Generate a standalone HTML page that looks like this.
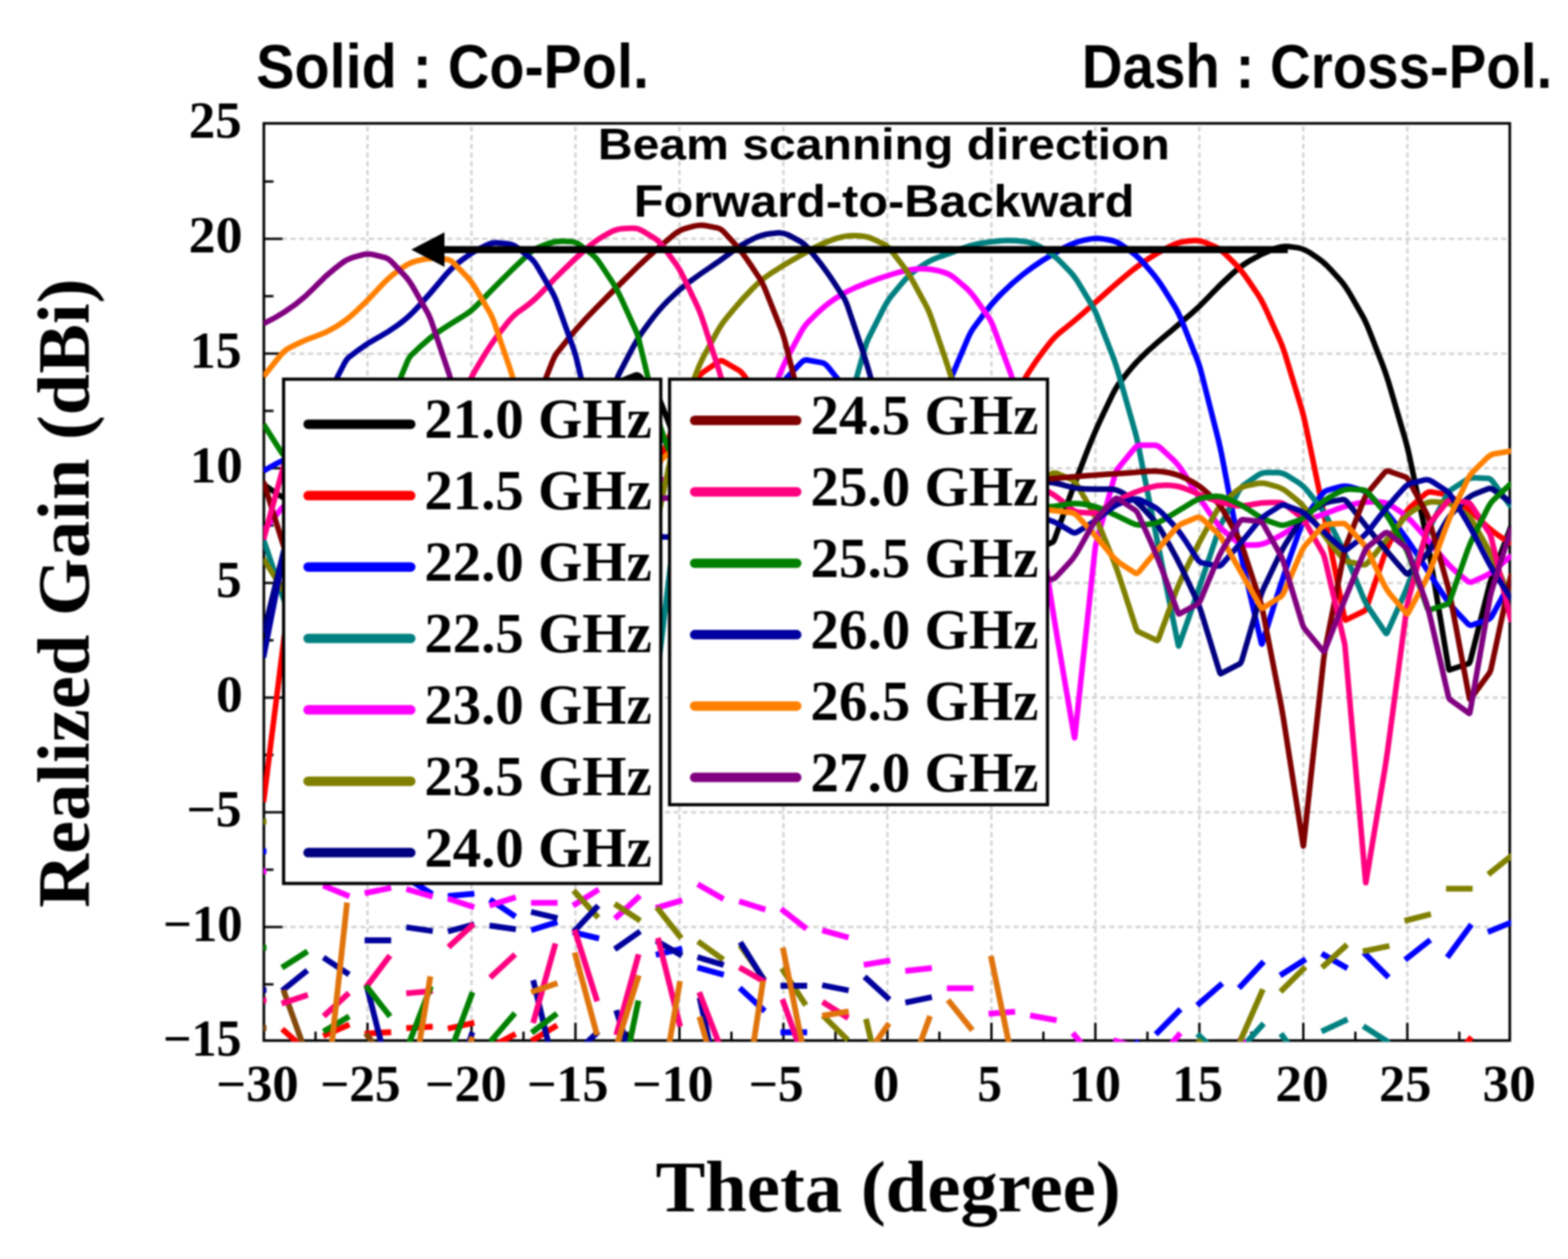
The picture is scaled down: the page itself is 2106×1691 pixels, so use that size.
<!DOCTYPE html>
<html lang="en"><head><meta charset="utf-8"><title>Realized gain vs theta</title>
<style>html,body{margin:0;padding:0;background:#fff}body{width:2106px;height:1691px;overflow:hidden}svg{display:block;filter:blur(0.9px)}.ser{font-family:"Liberation Serif","DejaVu Serif",serif;font-weight:bold;fill:#000}.san{font-family:"Liberation Sans","DejaVu Sans",sans-serif;font-weight:bold;fill:#000}</style></head><body>
<svg xmlns="http://www.w3.org/2000/svg" width="2106" height="1691" viewBox="0 0 2106 1691">
<rect width="2106" height="1691" fill="#fff"/>
<defs><clipPath id="pc"><rect x="353.9" y="165.8" width="1675.6" height="1233.4"/></clipPath></defs>
<g stroke="#d2d2d2" stroke-width="3" stroke-dasharray="7 4.7" fill="none">
<line x1="493.6" y1="169.7" x2="493.6" y2="1395.6"/>
<line x1="633.3" y1="169.7" x2="633.3" y2="1395.6"/>
<line x1="772.9" y1="169.7" x2="772.9" y2="1395.6"/>
<line x1="912.6" y1="169.7" x2="912.6" y2="1395.6"/>
<line x1="1052.2" y1="169.7" x2="1052.2" y2="1395.6"/>
<line x1="1191.9" y1="169.7" x2="1191.9" y2="1395.6"/>
<line x1="1331.6" y1="169.7" x2="1331.6" y2="1395.6"/>
<line x1="1471.2" y1="169.7" x2="1471.2" y2="1395.6"/>
<line x1="1610.9" y1="169.7" x2="1610.9" y2="1395.6"/>
<line x1="1750.5" y1="169.7" x2="1750.5" y2="1395.6"/>
<line x1="1890.2" y1="169.7" x2="1890.2" y2="1395.6"/>
<line x1="378.4" y1="1245.1" x2="2024.8" y2="1245.1"/>
<line x1="378.4" y1="1091.0" x2="2024.8" y2="1091.0"/>
<line x1="378.4" y1="937.0" x2="2024.8" y2="937.0"/>
<line x1="378.4" y1="783.0" x2="2024.8" y2="783.0"/>
<line x1="378.4" y1="628.9" x2="2024.8" y2="628.9"/>
<line x1="378.4" y1="474.9" x2="2024.8" y2="474.9"/>
<line x1="378.4" y1="320.8" x2="2024.8" y2="320.8"/>
</g>
<g stroke="#000" stroke-width="3.1" fill="none">
<line x1="354.4" y1="243.8" x2="367.4" y2="243.8"/>
<line x1="354.4" y1="320.8" x2="379.4" y2="320.8"/>
<line x1="354.4" y1="397.8" x2="367.4" y2="397.8"/>
<line x1="354.4" y1="474.9" x2="379.4" y2="474.9"/>
<line x1="354.4" y1="551.9" x2="367.4" y2="551.9"/>
<line x1="354.4" y1="628.9" x2="379.4" y2="628.9"/>
<line x1="354.4" y1="705.9" x2="367.4" y2="705.9"/>
<line x1="354.4" y1="783.0" x2="379.4" y2="783.0"/>
<line x1="354.4" y1="860.0" x2="367.4" y2="860.0"/>
<line x1="354.4" y1="937.0" x2="379.4" y2="937.0"/>
<line x1="354.4" y1="1014.0" x2="367.4" y2="1014.0"/>
<line x1="354.4" y1="1091.0" x2="379.4" y2="1091.0"/>
<line x1="354.4" y1="1168.1" x2="367.4" y2="1168.1"/>
<line x1="354.4" y1="1245.1" x2="379.4" y2="1245.1"/>
<line x1="354.4" y1="1322.1" x2="367.4" y2="1322.1"/>
<line x1="423.8" y1="1397.6" x2="423.8" y2="1385.6"/>
<line x1="493.6" y1="1397.6" x2="493.6" y2="1373.6"/>
<line x1="563.4" y1="1397.6" x2="563.4" y2="1385.6"/>
<line x1="633.3" y1="1397.6" x2="633.3" y2="1373.6"/>
<line x1="703.1" y1="1397.6" x2="703.1" y2="1385.6"/>
<line x1="772.9" y1="1397.6" x2="772.9" y2="1373.6"/>
<line x1="842.8" y1="1397.6" x2="842.8" y2="1385.6"/>
<line x1="912.6" y1="1397.6" x2="912.6" y2="1373.6"/>
<line x1="982.4" y1="1397.6" x2="982.4" y2="1385.6"/>
<line x1="1052.2" y1="1397.6" x2="1052.2" y2="1373.6"/>
<line x1="1122.1" y1="1397.6" x2="1122.1" y2="1385.6"/>
<line x1="1191.9" y1="1397.6" x2="1191.9" y2="1373.6"/>
<line x1="1261.7" y1="1397.6" x2="1261.7" y2="1385.6"/>
<line x1="1331.6" y1="1397.6" x2="1331.6" y2="1373.6"/>
<line x1="1401.4" y1="1397.6" x2="1401.4" y2="1385.6"/>
<line x1="1471.2" y1="1397.6" x2="1471.2" y2="1373.6"/>
<line x1="1541.1" y1="1397.6" x2="1541.1" y2="1385.6"/>
<line x1="1610.9" y1="1397.6" x2="1610.9" y2="1373.6"/>
<line x1="1680.7" y1="1397.6" x2="1680.7" y2="1385.6"/>
<line x1="1750.5" y1="1397.6" x2="1750.5" y2="1373.6"/>
<line x1="1820.4" y1="1397.6" x2="1820.4" y2="1385.6"/>
<line x1="1890.2" y1="1397.6" x2="1890.2" y2="1373.6"/>
<line x1="1960.0" y1="1397.6" x2="1960.0" y2="1385.6"/>
</g>
<rect x="354.4" y="165.7" width="1673.4" height="1231.9" fill="none" stroke="#000" stroke-width="3.5"/>
<g clip-path="url(#pc)" fill="none" stroke-linejoin="round" stroke-linecap="butt">
<path d="M353.9 650.5L373.6 664.3Q381.9 670.2 390.2 671.7L397.2 672.9Q409.8 675.1 422.4 677.9L425.2 678.5Q437.7 681.3 450.3 679.9L453.1 679.6Q465.7 678.2 478.2 672.7L481.0 671.4Q493.6 665.9 506.2 658.9L509.0 657.4Q521.5 650.5 534.1 643.5L536.9 642.0Q549.5 635.1 562.0 628.1L564.8 626.6Q577.4 619.7 590.0 612.7L592.8 611.2Q605.3 604.3 617.9 598.7L620.7 597.5Q633.3 591.9 645.8 586.4L648.6 585.1Q661.2 579.6 673.8 574.1L676.6 572.8Q689.1 567.3 701.7 561.7L704.5 560.5Q717.1 555.0 729.6 550.8L732.4 549.9Q745.0 545.7 757.6 541.6L760.4 540.6Q772.9 536.5 785.5 530.9L788.3 529.7Q800.9 524.1 813.4 519.6L816.2 518.6Q828.8 514.0 841.4 508.8L853.8 503.8Q856.7 502.6 859.6 505.8L881.6 530.0Q884.6 533.4 887.7 541.2L904.6 584.0Q912.6 604.3 920.6 620.1L937.4 653.6Q940.5 659.7 943.6 661.4L955.9 668.2Q968.4 675.1 981.0 682.0L983.8 683.6Q996.4 690.5 1008.9 697.5L1011.7 699.0Q1024.3 705.9 1036.9 712.9L1039.7 714.4Q1052.2 721.3 1064.8 728.3L1067.6 729.8Q1080.2 736.7 1092.7 743.7L1095.5 745.2Q1108.1 752.1 1120.7 759.1L1123.5 760.6Q1136.0 767.5 1148.6 774.5L1151.4 776.0Q1164.0 783.0 1176.5 789.9L1179.3 791.4Q1191.9 798.4 1204.5 805.3L1207.3 806.8Q1219.8 813.8 1232.4 820.7L1239.8 824.8Q1247.8 829.2 1255.7 829.2L1263.1 829.2Q1275.7 829.2 1288.3 825.0L1291.1 824.1Q1303.6 819.9 1316.2 811.6L1321.6 808.0Q1331.6 801.4 1341.5 790.4L1346.9 784.5Q1359.5 770.6 1372.1 756.8L1380.8 747.1Q1387.4 739.8 1394.1 736.9L1413.5 728.3Q1415.4 727.5 1417.2 722.3L1430.7 684.3Q1443.3 648.9 1455.9 617.0L1461.5 602.7Q1471.2 578.1 1480.9 557.8L1493.8 530.9Q1499.2 519.8 1504.5 513.1L1514.6 500.4Q1527.1 484.7 1539.5 473.4L1542.4 470.8Q1555.0 459.4 1567.6 448.9L1570.4 446.6Q1582.9 436.0 1595.5 425.2L1598.3 422.8Q1610.9 412.0 1623.4 398.7L1626.2 395.7Q1638.8 382.4 1651.4 371.1L1654.2 368.5Q1666.7 357.2 1679.3 349.8L1682.1 348.2Q1694.7 340.8 1707.2 336.0L1714.1 333.3Q1722.6 330.0 1731.1 331.2L1742.2 332.6Q1750.5 333.7 1758.9 339.2L1768.5 345.6Q1778.5 352.2 1788.4 363.2L1799.5 375.4Q1806.4 383.0 1813.3 395.0L1829.1 422.6Q1834.3 431.7 1839.6 445.3L1857.1 490.4Q1862.3 503.8 1867.4 521.6L1886.8 588.1Q1890.2 599.6 1893.6 615.5L1914.7 715.7Q1918.1 732.1 1921.6 753.0L1945.4 895.9Q1946.1 900.0 1946.8 899.8L1972.8 891.2Q1974.0 890.8 1975.2 886.0L1998.6 793.1Q2001.9 779.9 2005.3 771.1L2029.9 705.9" stroke="#000000" stroke-width="7.5"/>
<path d="M353.9 1077.2L380.9 861.9Q381.9 853.8 382.9 850.1L406.7 763.3Q409.8 752.1 412.9 745.4L433.7 699.3Q437.7 690.5 441.7 686.1L457.7 668.5Q465.7 659.7 473.6 655.3L481.0 651.2Q493.6 644.3 506.2 640.1L509.0 639.2Q521.5 635.1 534.1 632.3L536.9 631.7Q549.5 628.9 562.0 627.5L564.8 627.2Q577.4 625.8 590.0 624.4L592.8 624.1Q605.3 622.7 617.9 621.4L620.7 621.0Q633.3 619.7 645.8 619.7L648.6 619.7Q661.2 619.7 673.8 621.0L676.6 621.4Q689.1 622.7 701.7 624.1L704.5 624.4Q717.1 625.8 729.6 627.2L732.4 627.5Q745.0 628.9 757.6 630.3L760.4 630.6Q772.9 632.0 785.5 633.4L788.3 633.7Q800.9 635.1 813.4 635.1L816.2 635.1Q828.8 635.1 841.4 633.7L844.1 633.4Q856.7 632.0 869.3 629.2L882.9 626.2Q884.6 625.8 886.4 621.0L908.6 559.8Q912.6 548.8 916.6 542.2L936.0 510.1Q940.5 502.6 945.0 499.5L964.9 485.9Q968.4 483.5 971.9 485.5L991.8 496.9Q996.4 499.5 1000.9 506.5L1011.7 523.2Q1024.3 542.6 1036.9 560.7L1039.7 564.7Q1052.2 582.7 1064.8 596.5L1067.6 599.6Q1080.2 613.5 1092.7 623.2L1095.5 625.4Q1108.1 635.1 1120.7 642.0L1123.5 643.5Q1136.0 650.5 1148.6 654.6L1151.4 655.6Q1164.0 659.7 1176.5 659.7L1179.3 659.7Q1191.9 659.7 1204.5 655.6L1207.3 654.6Q1219.8 650.5 1232.4 643.5L1235.2 642.0Q1247.8 635.1 1260.3 625.4L1263.1 623.2Q1275.7 613.5 1288.3 602.4L1291.1 599.9Q1303.6 588.8 1316.2 579.1L1319.0 577.0Q1331.6 567.3 1344.1 553.4L1351.5 545.3Q1359.5 536.5 1367.5 523.3L1374.9 511.1Q1387.4 490.3 1400.0 473.6L1406.9 464.5Q1415.4 453.3 1423.8 446.4L1430.7 440.9Q1443.3 430.8 1455.9 419.7L1458.7 417.2Q1471.2 406.1 1483.8 394.9L1486.6 392.4Q1499.2 381.2 1511.7 370.7L1514.5 368.3Q1527.1 357.8 1539.7 349.5L1542.4 347.6Q1555.0 339.3 1567.6 332.9L1572.2 330.6Q1582.9 325.1 1593.7 324.0L1602.6 323.2Q1610.9 322.3 1619.2 325.9L1631.0 331.0Q1638.8 334.4 1646.6 342.1L1657.5 352.9Q1666.7 362.1 1676.0 375.7L1688.7 394.3Q1694.7 403.1 1700.6 416.2L1718.5 455.7Q1722.6 464.7 1726.7 478.1L1747.6 546.9Q1750.5 556.5 1753.5 570.5L1765.9 630.2Q1778.5 690.5 1791.0 754.7L1805.6 829.2Q1806.4 833.2 1807.2 832.8L1832.6 820.5Q1834.3 819.6 1836.1 814.4L1858.3 748.6Q1862.3 736.7 1866.3 729.3L1885.7 693.0Q1890.2 684.7 1894.7 680.7L1914.0 663.7Q1918.1 660.0 1922.3 660.8L1937.6 663.4Q1946.1 664.9 1954.6 670.8L1961.4 675.6Q1974.0 684.4 1986.6 696.8L1989.4 699.6Q2001.9 712.1 2014.5 720.4L2029.9 730.6" stroke="#ff0000" stroke-width="7.5"/>
<path d="M381.9 1384.7L409.8 1409.6M437.7 1389.9L465.7 1377.6M493.6 1388.1L521.5 1386.5M549.5 1380.7L577.4 1379.1M605.3 1380.7L633.3 1374.5M661.2 1405.3L689.1 1390.5M717.1 1396.1L745.0 1379.1M1946.1 1430.0L1974.0 1396.1" stroke="#ff0000" stroke-width="7.8" stroke-linecap="square"/>
<path d="M353.9 632.6L369.4 623.7Q381.9 616.6 394.3 613.8L397.2 613.2Q409.8 610.4 422.4 609.0L425.2 608.7Q437.7 607.3 450.3 605.9L453.1 605.6Q465.7 604.3 478.2 602.9L481.0 602.6Q493.6 601.2 506.2 599.8L509.0 599.5Q521.5 598.1 534.1 598.1L536.9 598.1Q549.5 598.1 562.0 598.1L564.8 598.1Q577.4 598.1 590.0 598.1L592.8 598.1Q605.3 598.1 617.9 598.1L620.7 598.1Q633.3 598.1 645.8 598.1L648.6 598.1Q661.2 598.1 673.8 598.1L676.6 598.1Q689.1 598.1 701.7 598.1L704.5 598.1Q717.1 598.1 729.6 598.1L732.4 598.1Q745.0 598.1 757.6 598.1L760.4 598.1Q772.9 598.1 785.5 598.1L788.3 598.1Q800.9 598.1 813.4 598.1L816.2 598.1Q828.8 598.1 841.4 598.1L844.1 598.1Q856.7 598.1 869.3 593.9L878.0 591.0Q884.6 588.8 891.3 591.0L900.0 593.9Q912.6 598.1 925.1 605.0L932.5 609.1Q940.5 613.5 948.5 613.5L960.5 613.5Q968.4 613.5 976.4 609.1L990.7 601.2Q996.4 598.1 1002.1 590.5L1014.3 574.3Q1024.3 561.1 1034.3 543.5L1046.2 522.5Q1052.2 511.8 1058.3 505.6L1076.5 486.6Q1080.2 482.9 1083.8 483.5L1104.0 487.1Q1108.1 487.8 1112.2 492.9L1131.2 516.5Q1136.0 522.6 1140.9 533.1L1155.1 563.6Q1164.0 582.7 1172.8 597.4L1187.9 622.3Q1191.9 628.9 1195.9 631.1L1217.2 642.8Q1219.8 644.3 1222.5 641.4L1246.0 615.4Q1247.8 613.5 1249.5 607.2L1272.3 524.3Q1275.7 511.8 1279.1 503.7L1299.2 456.2Q1303.6 445.9 1308.0 439.9L1319.1 424.9Q1331.6 408.0 1344.0 395.5L1346.9 392.6Q1359.5 380.0 1372.1 370.1L1374.9 367.9Q1387.4 358.1 1400.0 350.0L1402.8 348.3Q1415.4 340.2 1427.9 333.6L1430.7 332.1Q1443.3 325.4 1455.9 322.6L1459.8 321.8Q1471.2 319.3 1482.6 321.1L1490.8 322.5Q1499.2 323.9 1507.5 329.7L1517.1 336.4Q1527.1 343.3 1537.1 354.6L1545.7 364.5Q1555.0 375.0 1564.3 390.0L1578.1 412.2Q1582.9 420.0 1587.8 432.2L1607.8 482.5Q1610.9 490.3 1614.0 502.4L1635.4 586.7Q1638.8 600.2 1642.3 618.2L1661.9 720.9Q1666.7 746.0 1671.6 766.7L1694.1 863.6Q1694.7 866.1 1695.3 864.3L1711.2 813.2Q1722.6 776.8 1734.0 744.7L1747.5 706.9Q1750.5 698.2 1753.6 694.0L1774.5 665.2Q1778.5 659.7 1782.5 658.6L1798.4 654.2Q1806.4 652.0 1814.4 654.2L1828.2 658.0Q1834.3 659.7 1840.5 665.8L1849.7 675.0Q1862.3 687.4 1874.8 704.1L1877.6 707.8Q1890.2 724.4 1902.8 743.8L1905.6 748.1Q1918.1 767.5 1930.7 787.0L1936.8 796.4Q1946.1 810.7 1955.3 820.6L1970.9 837.2Q1974.0 840.6 1977.1 839.5L1999.0 832.0Q2001.9 831.0 2004.9 825.6L2029.9 779.9" stroke="#0000ff" stroke-width="7.5"/>
<path d="M326.0 1143.4L353.9 1143.4M549.5 1181.3L577.4 1198.9M605.3 1203.2L633.3 1200.7M661.2 1210.3L689.1 1229.1M717.1 1248.2L745.0 1239.6M772.9 1252.8L800.9 1259.6M884.6 1281.5L912.6 1275.0M940.5 1300.6L968.4 1308.3M996.4 1329.5L1024.3 1355.4M1052.2 1386.5L1080.2 1386.5M1499.2 1430.0L1527.1 1400.7M1555.0 1386.5L1582.9 1358.2M1610.9 1347.7L1638.8 1323.4M1666.7 1324.3L1694.7 1294.4M1722.6 1308.0L1750.5 1290.4M1778.5 1282.7L1806.4 1298.7M1834.3 1282.1L1862.3 1310.1M1890.2 1286.7L1918.1 1264.8M1946.1 1282.7L1974.0 1244.8M2001.9 1250.3L2029.9 1238.9" stroke="#0000ff" stroke-width="7.8" stroke-linecap="square"/>
<path d="M353.9 724.7L379.2 799.7Q381.9 807.6 384.5 811.1L407.5 841.5Q409.8 844.6 412.2 843.3L429.8 833.6Q437.7 829.2 445.7 820.4L453.1 812.2Q465.7 798.4 478.2 784.5L485.6 776.3Q493.6 767.5 501.6 763.1L509.0 759.1Q521.5 752.1 534.1 745.2L536.9 743.7Q549.5 736.7 562.0 729.8L569.4 725.7Q577.4 721.3 585.4 721.3L592.8 721.3Q605.3 721.3 617.9 721.3L620.7 721.3Q633.3 721.3 645.8 721.3L648.6 721.3Q661.2 721.3 673.8 721.3L676.6 721.3Q689.1 721.3 701.7 721.3L704.5 721.3Q717.1 721.3 729.6 721.3L737.0 721.3Q745.0 721.3 753.0 725.7L760.4 729.8Q772.9 736.7 785.5 743.7L792.9 747.7Q800.9 752.1 808.8 760.9L820.8 774.1Q828.8 783.0 836.8 796.2L848.7 816.0Q856.7 829.2 864.7 846.8L884.2 889.9Q884.6 890.8 885.1 887.3L912.0 664.4Q912.6 659.7 913.1 659.4L932.5 648.7Q940.5 644.3 948.5 644.3L955.9 644.3Q968.4 644.3 981.0 644.3L983.8 644.3Q996.4 644.3 1008.9 644.3L1011.7 644.3Q1024.3 644.3 1036.9 644.3L1039.7 644.3Q1052.2 644.3 1064.8 640.1L1070.2 638.4Q1080.2 635.1 1090.1 627.4L1104.5 616.3Q1108.1 613.5 1111.7 606.3L1133.2 563.7Q1136.0 558.0 1138.9 548.0L1161.1 469.5Q1164.0 459.4 1166.8 453.8L1186.2 415.3Q1191.9 404.0 1197.6 397.1L1211.0 380.9Q1219.8 370.1 1228.7 363.7L1235.7 358.7Q1247.8 350.1 1259.9 345.8L1263.1 344.6Q1275.7 340.2 1288.3 335.2L1291.1 334.1Q1303.6 329.1 1316.2 326.9L1319.0 326.4Q1331.6 324.2 1344.1 323.4L1346.9 323.2Q1359.5 322.3 1372.1 324.0L1377.7 324.7Q1387.4 326.0 1397.2 331.7L1405.4 336.5Q1415.4 342.4 1425.3 352.6L1436.5 364.1Q1443.3 371.0 1450.0 382.4L1466.4 409.8Q1471.2 417.9 1476.0 430.3L1494.5 478.1Q1499.2 490.3 1503.8 506.8L1524.2 578.8Q1527.1 588.8 1529.9 603.3L1542.4 666.8Q1555.0 730.6 1567.6 792.7L1582.4 865.8Q1582.9 868.6 1583.5 867.0L1598.3 824.9Q1610.9 789.1 1623.4 751.7L1634.9 717.6Q1638.8 705.9 1642.7 698.7L1662.9 661.2Q1666.7 654.2 1670.5 651.5L1688.3 639.2Q1694.7 634.8 1701.0 634.8L1715.6 634.8Q1722.6 634.8 1729.6 639.2L1743.5 647.9Q1750.5 652.3 1757.5 661.1L1772.4 679.8Q1778.5 687.4 1784.5 699.4L1796.4 723.1Q1806.4 742.9 1816.4 767.1L1829.7 799.4Q1834.3 810.7 1839.0 817.5L1861.1 850.2Q1862.3 852.0 1863.4 849.3L1881.5 808.6Q1890.2 789.1 1898.9 765.2L1913.1 725.8Q1918.1 712.1 1923.1 702.7L1942.5 666.4Q1946.1 659.7 1949.7 657.4L1967.7 645.7Q1974.0 641.5 1980.3 641.8L1998.6 642.6Q2001.9 642.8 2005.2 647.3L2029.9 681.3" stroke="#008080" stroke-width="7.5"/>
<path d="M1610.9 1391.4L1638.8 1417.6M1666.7 1408.4L1694.7 1377.6M1722.6 1391.4L1750.5 1430.0M1778.5 1383.7L1806.4 1370.8M1834.3 1380.4L1862.3 1398.2" stroke="#008080" stroke-width="7.8" stroke-linecap="square"/>
<path d="M353.9 713.0L374.3 687.6Q381.9 678.2 389.4 673.2L397.2 668.0Q409.8 659.7 422.4 655.6L425.2 654.6Q437.7 650.5 450.3 647.7L453.1 647.1Q465.7 644.3 478.2 644.3L481.0 644.3Q493.6 644.3 506.2 644.3L509.0 644.3Q521.5 644.3 534.1 644.3L536.9 644.3Q549.5 644.3 562.0 644.3L564.8 644.3Q577.4 644.3 590.0 644.3L592.8 644.3Q605.3 644.3 617.9 644.3L620.7 644.3Q633.3 644.3 645.8 644.3L648.6 644.3Q661.2 644.3 673.8 644.3L676.6 644.3Q689.1 644.3 701.7 644.3L704.5 644.3Q717.1 644.3 729.6 644.3L732.4 644.3Q745.0 644.3 757.6 644.3L760.4 644.3Q772.9 644.3 785.5 644.3L788.3 644.3Q800.9 644.3 813.4 644.3L816.2 644.3Q828.8 644.3 841.4 644.3L844.1 644.3Q856.7 644.3 869.3 644.3L872.1 644.3Q884.6 644.3 897.2 644.3L900.0 644.3Q912.6 644.3 925.1 644.3L927.9 644.3Q940.5 644.3 953.1 640.1L958.5 638.4Q968.4 635.1 978.4 627.4L992.4 616.6Q996.4 613.5 1000.4 606.0L1017.7 573.6Q1024.3 561.1 1031.0 544.3L1045.6 507.1Q1052.2 490.3 1058.9 477.8L1075.2 447.2Q1080.2 437.9 1085.2 432.9L1095.5 422.6Q1108.1 410.1 1120.7 401.8L1123.5 400.0Q1136.0 391.7 1148.6 386.4L1151.4 385.2Q1164.0 380.0 1176.5 375.5L1179.3 374.5Q1191.9 370.1 1204.5 366.5L1207.3 365.7Q1219.8 362.1 1232.4 361.3L1235.2 361.1Q1247.8 360.2 1260.3 363.7L1268.0 365.8Q1275.7 367.9 1283.4 374.5L1296.1 385.3Q1303.6 391.7 1311.2 402.5L1328.1 426.7Q1331.6 431.7 1335.0 441.1L1357.5 501.8Q1359.5 507.2 1361.5 517.0L1384.9 631.7Q1387.4 644.3 1390.0 661.3L1409.7 792.0Q1415.4 829.2 1421.0 861.9L1443.0 990.4Q1443.3 992.1 1443.6 989.5L1470.4 740.9Q1471.2 733.7 1472.0 730.8L1497.3 638.6Q1499.2 632.0 1501.0 629.8L1523.5 602.5Q1527.1 598.1 1530.7 598.1L1550.3 598.1Q1555.0 598.1 1559.7 602.5L1576.3 618.0Q1582.9 624.3 1589.6 634.9L1598.3 648.8Q1610.9 669.0 1623.4 687.0L1631.6 698.6Q1638.8 709.0 1646.1 715.0L1661.4 727.7Q1666.7 732.1 1672.1 732.1L1685.8 732.1Q1694.7 732.1 1703.5 727.7L1710.0 724.5Q1722.6 718.2 1735.2 709.9L1738.0 708.1Q1750.5 699.8 1763.1 695.6L1765.9 694.7Q1778.5 690.5 1791.0 685.7L1793.8 684.6Q1806.4 679.7 1819.0 677.0L1821.8 676.3Q1834.3 673.6 1846.9 674.1L1855.3 674.5Q1862.3 674.8 1869.3 679.5L1880.7 687.2Q1890.2 693.6 1899.7 704.4L1905.6 711.1Q1918.1 725.3 1930.7 740.9L1935.3 746.5Q1946.1 759.8 1956.8 768.8L1970.5 780.1Q1974.0 783.0 1977.5 781.4L1992.0 775.0Q2001.9 770.6 2011.9 761.8L2029.9 746.0" stroke="#ff00ff" stroke-width="7.5"/>
<path d="M326.0 1171.2L353.9 1170.2M437.7 1190.9L465.7 1202.3M493.6 1198.9L521.5 1193.3M549.5 1195.2L577.4 1203.2M605.3 1208.1L633.3 1217.4M661.2 1215.2L689.1 1206.3M717.1 1212.7L745.0 1212.7M772.9 1214.3L800.9 1196.7M828.8 1231.2L856.7 1205.7M884.6 1218.6L912.6 1210.3M940.5 1189.6L968.4 1205.7M996.4 1211.8L1024.3 1220.5M1052.2 1223.2L1080.2 1245.1M1108.1 1250.6L1136.0 1258.3M1164.0 1295.3L1191.9 1290.7M1219.8 1303.6L1247.8 1300.6M1275.7 1327.4L1303.6 1327.4M1331.6 1361.3L1359.5 1359.1M1387.4 1364.6L1415.4 1369.6M1443.3 1390.5L1471.2 1423.8M1499.2 1398.2L1527.1 1406.9M1555.0 1423.8L1582.9 1390.5M1666.7 1396.1L1694.7 1430.0" stroke="#ff00ff" stroke-width="7.8" stroke-linecap="square"/>
<path d="M353.9 750.6L377.2 787.8Q381.9 795.3 386.6 798.4L406.2 811.4Q409.8 813.8 413.4 811.8L425.2 805.3Q437.7 798.4 450.3 791.4L453.1 789.9Q465.7 783.0 478.2 776.0L481.0 774.5Q493.6 767.5 506.2 760.6L509.0 759.1Q521.5 752.1 534.1 745.2L536.9 743.7Q549.5 736.7 562.0 729.8L569.4 725.7Q577.4 721.3 585.4 721.3L592.8 721.3Q605.3 721.3 617.9 721.3L620.7 721.3Q633.3 721.3 645.8 721.3L648.6 721.3Q661.2 721.3 673.8 721.3L676.6 721.3Q689.1 721.3 701.7 721.3L704.5 721.3Q717.1 721.3 729.6 721.3L732.4 721.3Q745.0 721.3 757.6 721.3L760.4 721.3Q772.9 721.3 785.5 721.3L788.3 721.3Q800.9 721.3 813.4 721.3L816.2 721.3Q828.8 721.3 841.4 721.3L852.7 721.3Q856.7 721.3 860.7 716.9L883.4 691.9Q884.6 690.5 885.9 684.7L910.4 571.4Q912.6 561.1 914.8 555.3L935.1 501.4Q940.5 487.2 945.9 477.3L961.3 449.1Q968.4 436.0 975.6 427.4L983.8 417.4Q996.4 402.1 1008.9 389.5L1012.2 386.2Q1024.3 374.1 1036.4 366.4L1039.7 364.3Q1052.2 356.2 1064.8 349.0L1067.6 347.4Q1080.2 340.2 1092.7 333.4L1095.5 331.9Q1108.1 325.1 1120.7 321.1L1123.6 320.2Q1136.0 316.2 1148.5 316.6L1153.7 316.8Q1164.0 317.1 1174.2 321.8L1186.6 327.6Q1191.9 330.0 1197.2 336.9L1212.0 356.0Q1219.8 366.1 1227.7 380.6L1243.7 410.2Q1247.8 417.9 1251.9 429.9L1268.4 478.3Q1275.7 499.5 1282.9 525.1L1300.3 586.4Q1303.6 598.1 1307.0 605.4L1328.9 653.8Q1331.6 659.7 1334.2 661.2L1356.2 673.3Q1359.5 675.1 1362.8 672.5L1374.9 663.3Q1387.4 653.5 1400.0 644.8L1411.4 636.9Q1415.4 634.1 1419.3 635.8L1439.9 644.4Q1443.3 645.8 1446.7 651.7L1465.1 683.1Q1471.2 693.6 1477.4 708.5L1492.5 745.2Q1499.2 761.4 1505.8 781.9L1525.4 842.5Q1527.1 847.7 1528.8 848.4L1553.6 860.2Q1555.0 860.9 1556.4 857.2L1576.4 802.6Q1582.9 784.8 1589.5 771.4L1598.3 753.3Q1610.9 727.5 1623.4 705.3L1633.9 686.8Q1638.8 678.2 1643.7 674.0L1659.9 660.1Q1666.7 654.2 1673.6 652.6L1685.8 650.0Q1694.7 648.0 1703.5 650.4L1714.6 653.5Q1722.6 655.7 1730.6 662.3L1743.7 673.1Q1750.5 678.8 1757.4 688.9L1765.9 701.3Q1778.5 719.8 1791.0 735.0L1802.1 748.4Q1806.4 753.7 1810.7 754.5L1831.2 758.6Q1834.3 759.2 1837.5 755.4L1849.7 740.6Q1862.3 725.3 1874.8 709.8L1883.1 699.6Q1890.2 690.8 1897.3 686.4L1911.6 677.6Q1918.1 673.6 1924.7 673.9L1938.8 674.7Q1946.1 675.1 1953.3 679.9L1970.0 691.0Q1974.0 693.6 1978.0 700.6L1992.0 725.3Q2001.9 742.9 2011.9 764.9L2029.9 804.5" stroke="#808000" stroke-width="7.5"/>
<path d="M326.0 1103.4L353.9 1103.4M772.9 1198.9L800.9 1229.7M828.8 1216.1L856.7 1234.6M884.6 1221.7L912.6 1257.1M940.5 1266.7L968.4 1286.7M996.4 1272.8L1024.3 1312.9M1052.2 1303.9L1080.2 1346.8M1108.1 1366.8L1136.0 1394.2M1164.0 1372.3L1191.9 1491.6M1610.9 1399.2L1638.8 1430.0M1666.7 1396.1L1694.7 1332.3M1722.6 1329.2L1750.5 1301.5M1778.5 1296.9L1806.4 1271.3M1834.3 1277.1L1862.3 1271.3M1890.2 1235.9L1918.1 1228.8M1946.1 1193.6L1974.0 1193.6M2001.9 1172.1L2029.9 1149.6" stroke="#808000" stroke-width="7.8" stroke-linecap="square"/>
<path d="M353.9 850.7L380.1 744.1Q381.9 736.7 383.7 733.7L405.8 697.1Q409.8 690.5 413.8 688.3L425.2 682.0Q437.7 675.1 450.3 668.2L457.7 664.1Q465.7 659.7 473.6 659.7L481.0 659.7Q493.6 659.7 506.2 659.7L509.0 659.7Q521.5 659.7 534.1 659.7L536.9 659.7Q549.5 659.7 562.0 659.7L564.8 659.7Q577.4 659.7 590.0 659.7L592.8 659.7Q605.3 659.7 617.9 659.7L620.7 659.7Q633.3 659.7 645.8 659.7L648.6 659.7Q661.2 659.7 673.8 659.7L676.6 659.7Q689.1 659.7 701.7 659.7L704.5 659.7Q717.1 659.7 729.6 659.7L737.0 659.7Q745.0 659.7 753.0 655.3L768.9 646.5Q772.9 644.3 776.9 637.7L798.1 602.6Q800.9 598.1 803.6 589.1L825.5 517.8Q828.8 507.2 832.1 501.0L848.9 468.8Q856.7 453.9 864.5 443.4L872.2 433.1Q884.6 416.3 897.1 403.9L900.0 401.1Q912.6 388.6 925.1 379.3L927.9 377.2Q940.5 367.9 953.1 359.5L955.9 357.6Q968.4 349.1 981.0 339.7L983.8 337.6Q996.4 328.2 1008.9 322.1L1013.2 320.0Q1024.3 314.6 1035.4 313.7L1045.1 312.8Q1052.2 312.2 1059.4 315.9L1073.7 323.6Q1080.2 327.0 1086.6 334.8L1095.5 345.6Q1108.1 360.9 1120.7 380.3L1133.0 399.2Q1136.0 404.0 1139.1 413.1L1157.3 467.4Q1164.0 487.2 1170.6 511.4L1187.9 574.3Q1191.9 588.8 1195.9 599.0L1217.6 654.1Q1219.8 659.7 1222.0 660.9L1239.8 670.7Q1247.8 675.1 1255.7 675.1L1263.1 675.1Q1275.7 675.1 1288.3 671.0L1291.1 670.0Q1303.6 665.9 1316.2 663.1L1319.0 662.5Q1331.6 659.7 1344.1 656.9L1346.9 656.3Q1359.5 653.5 1372.1 650.8L1374.9 650.2Q1387.4 647.4 1400.0 647.4L1402.8 647.4Q1415.4 647.4 1427.9 651.4L1430.7 652.3Q1443.3 656.3 1455.9 656.6L1458.7 656.7Q1471.2 656.9 1483.8 656.9L1491.8 656.9Q1499.2 656.9 1506.5 661.3L1518.4 668.4Q1527.1 673.6 1535.8 683.1L1548.4 697.1Q1555.0 704.4 1561.7 716.1L1571.6 733.6Q1582.9 753.7 1594.3 778.2L1607.0 805.3Q1610.9 813.8 1614.8 826.6L1637.7 901.5Q1638.8 905.3 1640.0 904.7L1665.2 891.6Q1666.7 890.8 1668.3 885.6L1691.4 806.6Q1694.7 795.3 1698.0 788.3L1714.6 753.5Q1722.6 736.7 1730.6 724.4L1745.6 701.3Q1750.5 693.6 1755.5 690.3L1769.6 681.0Q1778.5 675.1 1787.3 673.6L1803.3 671.0Q1806.4 670.5 1809.5 674.4L1821.8 690.0Q1834.3 705.9 1846.9 721.3L1849.7 724.7Q1862.3 740.1 1874.8 754.5L1888.2 769.9Q1890.2 772.2 1892.2 770.1L1912.0 749.3Q1918.1 742.9 1924.3 732.1L1940.4 703.5Q1946.1 693.6 1951.7 688.1L1966.5 673.6Q1974.0 666.2 1981.5 663.2L1998.0 656.7Q2001.9 655.1 2005.9 657.9L2029.9 675.1" stroke="#000080" stroke-width="7.5"/>
<path d="M326.0 1329.8L353.9 1329.8M381.9 1328.3L409.8 1305.8M437.7 1288.2L465.7 1306.7M493.6 1263.0L521.5 1263.0M493.6 1328.3L521.5 1438.0M549.5 1246.0L577.4 1250.0M605.3 1250.0L633.3 1242.6M605.3 1476.2L633.3 1389.9M661.2 1243.6L689.1 1247.6M717.1 1225.7L745.0 1232.2M717.1 1320.3L745.0 1436.1M772.9 1249.1L800.9 1219.2M772.9 1414.6L800.9 1388.1M828.8 1272.8L856.7 1253.1M828.8 1360.6L856.7 1448.4M884.6 1265.4L912.6 1281.5M940.5 1286.7L968.4 1295.0M940.5 1343.7L968.4 1473.1M996.4 1268.8L1024.3 1313.5M1052.2 1324.0L1080.2 1324.0M1108.1 1324.0L1136.0 1329.5M1164.0 1314.4L1191.9 1340.0M1219.8 1345.8L1247.8 1340.0" stroke="#00009c" stroke-width="7.8" stroke-linecap="square"/>
<path d="M353.9 646.8L379.1 727.7Q381.9 736.7 384.7 741.4L407.8 779.7Q409.8 783.0 411.8 781.9L429.8 771.9Q437.7 767.5 445.7 758.7L453.1 750.6Q465.7 736.7 478.2 722.9L485.6 714.7Q493.6 705.9 501.6 701.5L509.0 697.5Q521.5 690.5 534.1 683.6L536.9 682.0Q549.5 675.1 562.0 668.2L564.8 666.6Q577.4 659.7 590.0 652.8L592.8 651.2Q605.3 644.3 617.9 637.4L620.7 635.8Q633.3 628.9 645.8 622.0L653.2 617.9Q661.2 613.5 669.2 604.7L676.6 596.5Q689.1 582.7 701.7 567.4L713.7 552.8Q717.1 548.8 720.4 540.4L741.5 486.7Q745.0 477.9 748.4 473.6L760.4 458.6Q772.9 442.8 785.5 429.5L788.3 426.5Q800.9 413.2 813.4 400.8L816.2 398.0Q828.8 385.5 841.4 373.0L844.1 370.3Q856.7 357.8 869.3 346.3L872.1 343.7Q884.6 332.2 897.2 321.8L904.6 315.7Q912.6 309.1 920.6 306.9L931.4 303.9Q940.5 301.4 949.6 303.3L963.5 306.2Q968.4 307.2 973.4 312.7L985.3 325.8Q996.4 338.1 1007.5 354.7L1020.0 373.5Q1024.3 380.0 1028.6 390.9L1049.2 442.6Q1052.2 450.2 1055.3 462.2L1077.3 549.8Q1080.2 561.1 1083.0 568.0L1104.8 620.8Q1108.1 628.9 1111.4 632.6L1131.0 654.2Q1136.0 659.7 1141.0 660.8L1154.0 663.7Q1164.0 665.9 1173.9 663.7L1179.3 662.5Q1191.9 659.7 1204.5 656.9L1207.3 656.3Q1219.8 653.5 1232.4 652.2L1235.2 651.9Q1247.8 650.5 1260.3 649.1L1263.1 648.8Q1275.7 647.4 1288.3 647.4L1291.1 647.4Q1303.6 647.4 1316.2 647.4L1319.0 647.4Q1331.6 647.4 1344.1 646.7L1346.9 646.5Q1359.5 645.8 1372.1 645.2L1374.9 645.0Q1387.4 644.3 1400.0 643.6L1402.8 643.5Q1415.4 642.8 1427.9 641.5L1430.7 641.2Q1443.3 640.0 1455.9 639.2L1458.7 639.0Q1471.2 638.1 1483.8 637.3L1486.6 637.1Q1499.2 636.3 1511.7 635.5L1514.5 635.3Q1527.1 634.4 1539.7 633.3L1542.4 633.1Q1555.0 632.0 1567.6 634.5L1570.4 635.0Q1582.9 637.5 1595.5 644.0L1600.4 646.6Q1610.9 652.0 1621.4 661.8L1633.7 673.4Q1638.8 678.2 1643.9 687.4L1663.2 722.1Q1666.7 728.4 1670.2 739.1L1692.6 807.3Q1694.7 813.8 1696.8 824.6L1719.3 940.0Q1722.6 957.0 1725.9 978.5L1750.3 1135.5Q1750.5 1137.3 1750.8 1134.7L1777.4 889.2Q1778.5 879.4 1779.5 873.9L1804.7 745.6Q1806.4 736.7 1808.1 732.3L1831.1 673.1Q1834.3 664.9 1837.5 661.1L1859.4 635.1Q1862.3 631.7 1865.1 632.7L1887.3 640.5Q1890.2 641.5 1893.1 647.0L1915.5 688.7Q1918.1 693.6 1920.8 702.9L1943.6 783.4Q1946.1 792.2 1948.6 805.4L1973.3 936.6Q1974.0 940.1 1974.7 939.2L2000.6 903.7Q2001.9 901.9 2003.2 895.7L2029.9 770.6" stroke="#800000" stroke-width="7.5"/>
<path d="M326.0 1380.7L353.9 1380.7M381.9 1333.2L409.8 1411.5M493.6 1391.1L521.5 1430.0" stroke="#84480c" stroke-width="7.8" stroke-linecap="square"/>
<path d="M353.9 724.7L380.5 627.6Q381.9 622.7 383.2 622.3L404.8 615.1Q409.8 613.5 414.8 616.2L425.2 622.0Q437.7 628.9 450.3 635.8L457.7 639.9Q465.7 644.3 473.6 644.3L485.6 644.3Q493.6 644.3 501.6 639.9L509.0 635.8Q521.5 628.9 534.1 622.0L536.9 620.4Q549.5 613.5 562.0 606.6L569.4 602.5Q577.4 598.1 585.4 589.3L601.3 571.7Q605.3 567.3 609.3 558.5L625.3 523.3Q633.3 505.7 641.2 492.5L649.8 478.3Q661.2 459.4 672.6 445.0L681.1 434.1Q689.1 424.0 697.1 418.3L704.6 412.9Q717.1 404.0 729.5 390.6L732.4 387.5Q745.0 374.1 757.6 361.9L760.4 359.2Q772.9 347.0 785.5 335.9L788.3 333.4Q800.9 322.3 813.4 315.5L820.1 311.9Q828.8 307.2 837.5 307.0L849.8 306.5Q856.7 306.3 863.6 310.5L878.7 319.7Q884.6 323.3 890.6 331.3L906.7 353.0Q912.6 360.9 918.4 373.1L936.1 410.1Q940.5 419.4 944.9 433.1L962.7 488.1Q968.4 505.7 974.1 527.7L994.4 605.8Q996.4 613.5 998.4 616.8L1020.3 653.1Q1024.3 659.7 1028.3 661.9L1044.3 670.7Q1052.2 675.1 1060.2 675.1L1067.6 675.1Q1080.2 675.1 1092.7 671.0L1095.5 670.0Q1108.1 665.9 1120.7 663.1L1123.5 662.5Q1136.0 659.7 1148.6 656.9L1151.4 656.3Q1164.0 653.5 1176.5 652.2L1179.3 651.9Q1191.9 650.5 1204.5 649.1L1207.3 648.8Q1219.8 647.4 1232.4 646.0L1235.2 645.7Q1247.8 644.3 1260.3 642.9L1263.1 642.6Q1275.7 641.2 1288.3 639.8L1291.1 639.5Q1303.6 638.1 1316.2 639.5L1319.0 639.8Q1331.6 641.2 1344.1 642.6L1346.9 642.9Q1359.5 644.3 1372.1 647.1L1374.9 647.7Q1387.4 650.5 1400.0 656.4L1403.6 658.2Q1415.4 663.7 1427.1 673.7L1437.6 682.6Q1443.3 687.4 1449.0 687.9L1464.7 689.1Q1471.2 689.6 1477.8 685.7L1486.6 680.4Q1499.2 673.0 1511.7 667.0L1514.5 665.7Q1527.1 659.7 1539.7 656.0L1542.4 655.1Q1555.0 651.4 1567.6 651.8L1571.9 651.9Q1582.9 652.3 1594.0 657.1L1598.3 658.9Q1610.9 664.3 1623.4 669.2L1626.2 670.3Q1638.8 675.1 1651.4 677.5L1655.0 678.2Q1666.7 680.4 1678.5 678.2L1682.1 677.5Q1694.7 675.1 1707.2 675.1L1716.9 675.1Q1722.6 675.1 1728.3 679.5L1746.1 693.3Q1750.5 696.7 1755.0 704.5L1776.7 742.9Q1778.5 746.0 1780.2 753.4L1805.8 863.5Q1806.4 866.1 1807.0 873.2L1834.1 1183.7Q1834.3 1186.6 1834.6 1185.1L1859.3 1037.1Q1862.3 1019.3 1865.2 997.0L1889.0 819.5Q1890.2 810.7 1891.4 806.2L1916.4 712.5Q1918.1 705.9 1919.9 703.7L1942.9 675.1Q1946.1 671.1 1949.2 671.6L1970.9 674.7Q1974.0 675.1 1977.1 680.0L2000.3 715.7Q2001.9 718.2 2003.6 725.2L2029.9 835.3" stroke="#ff0080" stroke-width="7.5"/>
<path d="M326.0 1343.7L353.9 1343.7M381.9 1346.8L409.8 1337.5M437.7 1362.2L465.7 1336.3M493.6 1323.4L521.5 1286.4M549.5 1333.8L577.4 1331.4M605.3 1269.4L633.3 1243.6M661.2 1310.4L689.1 1284.5M717.1 1370.2L745.0 1271.0M772.9 1252.5L800.9 1341.2M828.8 1386.5L856.7 1285.5M884.6 1263.6L912.6 1375.1M940.5 1336.3L968.4 1408.4M996.4 1301.2L1024.3 1317.2M1052.2 1345.8L1080.2 1423.8M1108.1 1347.7L1136.0 1365.3" stroke="#ff0080" stroke-width="7.8" stroke-linecap="square"/>
<path d="M353.9 569.7L377.5 606.7Q381.9 613.5 386.2 615.9L404.1 625.8Q409.8 628.9 415.5 627.6L427.8 624.9Q437.7 622.7 447.7 616.1L453.1 612.6Q465.7 604.3 478.2 594.5L484.7 589.5Q493.6 582.7 502.5 571.4L517.7 552.1Q521.5 547.3 525.4 538.0L546.5 487.0Q549.5 479.8 552.5 476.9L564.8 465.2Q577.4 453.3 590.0 445.0L592.8 443.1Q605.3 434.8 617.9 427.2L623.3 423.9Q633.3 417.9 643.2 407.4L648.6 401.8Q661.2 388.6 673.8 376.1L676.6 373.3Q689.1 360.9 701.7 349.1L709.1 342.1Q717.1 334.7 725.0 331.6L734.2 328.0Q745.0 323.9 755.8 324.1L767.1 324.4Q772.9 324.5 778.8 329.0L795.0 341.5Q800.9 346.1 806.7 355.0L822.4 378.8Q828.8 388.6 835.2 402.8L854.5 445.3Q856.7 450.2 858.9 459.5L881.6 554.4Q884.6 567.3 887.7 575.7L909.9 637.0Q912.6 644.3 915.2 647.2L932.5 666.3Q940.5 675.1 948.5 679.5L960.5 686.1Q968.4 690.5 976.4 690.5L983.8 690.5Q996.4 690.5 1008.9 687.7L1011.7 687.1Q1024.3 684.4 1036.9 681.6L1039.7 681.0Q1052.2 678.2 1064.8 676.8L1067.6 676.5Q1080.2 675.1 1092.7 675.1L1095.5 675.1Q1108.1 675.1 1120.7 675.1L1123.5 675.1Q1136.0 675.1 1148.6 675.1L1151.4 675.1Q1164.0 675.1 1176.5 676.5L1179.3 676.8Q1191.9 678.2 1204.5 679.6L1207.3 679.9Q1219.8 681.3 1232.4 681.3L1235.2 681.3Q1247.8 681.3 1260.3 681.3L1263.1 681.3Q1275.7 681.3 1288.3 681.3L1291.1 681.3Q1303.6 681.3 1316.2 681.3L1319.0 681.3Q1331.6 681.3 1344.1 681.3L1346.9 681.3Q1359.5 681.3 1372.1 681.3L1374.9 681.3Q1387.4 681.3 1400.0 681.0L1402.8 680.9Q1415.4 680.7 1427.9 678.2L1431.2 677.5Q1443.3 675.1 1455.4 677.1L1458.7 677.7Q1471.2 679.7 1483.8 685.3L1486.6 686.5Q1499.2 692.1 1511.7 698.3L1519.8 702.3Q1527.1 705.9 1534.3 705.1L1546.2 703.8Q1555.0 702.8 1563.9 697.5L1570.4 693.5Q1582.9 685.9 1595.5 678.3L1602.0 674.3Q1610.9 669.0 1619.7 668.0L1630.3 666.8Q1638.8 665.9 1647.3 669.3L1654.2 672.1Q1666.7 677.3 1679.3 686.0L1682.1 687.9Q1694.7 696.7 1707.2 701.1L1716.4 704.3Q1722.6 706.5 1728.8 704.3L1742.6 699.5Q1750.5 696.7 1758.5 689.5L1766.7 682.0Q1778.5 671.4 1790.2 665.2L1798.9 660.6Q1806.4 656.6 1813.9 657.0L1830.3 657.9Q1834.3 658.2 1838.3 662.8L1855.1 682.3Q1862.3 690.5 1869.4 703.2L1886.1 732.9Q1890.2 740.1 1894.3 751.8L1916.8 816.0Q1918.1 819.9 1919.5 819.5L1944.3 811.3Q1946.1 810.7 1947.8 805.7L1969.0 744.9Q1974.0 730.6 1979.0 720.7L1997.7 683.5Q2001.9 675.1 2006.1 671.2L2029.9 648.9" stroke="#008000" stroke-width="7.5"/>
<path d="M326.0 1272.8L353.9 1272.8M381.9 1297.5L409.8 1279.9M437.7 1383.7L465.7 1367.1M493.6 1326.7L521.5 1362.2M549.5 1401.0L577.4 1328.3M605.3 1411.5L633.3 1336.3M661.2 1396.1L689.1 1363.7M717.1 1384.7L745.0 1363.7M828.8 1482.3L856.7 1347.7" stroke="#008000" stroke-width="7.8" stroke-linecap="square"/>
<path d="M353.9 883.1L378.1 759.3Q381.9 739.8 385.7 724.7L403.2 655.3Q409.8 628.9 416.5 606.9L434.5 547.2Q437.7 536.5 441.0 530.1L462.0 489.1Q465.7 481.9 469.3 479.2L481.0 470.4Q493.6 461.0 506.2 454.2L509.0 452.7Q521.5 445.9 534.1 436.7L537.7 434.1Q549.5 425.6 561.2 412.6L564.8 408.6Q577.4 394.7 590.0 379.5L595.4 373.0Q605.3 360.9 615.3 353.2L620.7 349.0Q633.3 339.3 645.8 333.0L653.8 329.1Q661.2 325.4 668.6 326.2L682.7 327.6Q689.1 328.2 695.6 333.2L712.3 346.4Q717.1 350.1 721.8 358.2L740.9 390.9Q745.0 397.8 749.1 409.2L769.8 467.1Q772.9 475.8 776.0 488.8L797.4 579.1Q800.9 593.5 804.3 603.4L826.4 668.0Q828.8 675.1 831.2 677.8L848.7 697.1Q856.7 705.9 864.7 710.3L876.7 716.9Q884.6 721.3 892.6 721.3L900.0 721.3Q912.6 721.3 925.1 718.6L927.9 717.9Q940.5 715.2 953.1 712.4L955.9 711.8Q968.4 709.0 981.0 706.2L983.8 705.6Q996.4 702.8 1008.9 700.1L1011.7 699.5Q1024.3 696.7 1036.9 693.9L1039.7 693.3Q1052.2 690.5 1064.8 690.5L1067.6 690.5Q1080.2 690.5 1092.7 690.5L1095.5 690.5Q1108.1 690.5 1120.7 690.5L1123.5 690.5Q1136.0 690.5 1148.6 690.5L1151.4 690.5Q1164.0 690.5 1176.5 690.5L1179.3 690.5Q1191.9 690.5 1204.5 690.5L1207.3 690.5Q1219.8 690.5 1232.4 690.5L1235.2 690.5Q1247.8 690.5 1260.3 690.5L1263.1 690.5Q1275.7 690.5 1288.3 690.5L1291.1 690.5Q1303.6 690.5 1316.2 690.5L1319.0 690.5Q1331.6 690.5 1344.1 690.5L1346.9 690.5Q1359.5 690.5 1372.1 691.9L1374.9 692.2Q1387.4 693.6 1400.0 696.4L1404.0 697.2Q1415.4 699.8 1426.8 706.7L1439.7 714.5Q1443.3 716.7 1446.9 714.5L1458.7 707.4Q1471.2 699.8 1483.8 689.6L1490.7 684.1Q1499.2 677.3 1507.6 674.8L1521.4 670.9Q1527.1 669.3 1532.8 672.0L1547.2 679.0Q1555.0 682.8 1562.8 691.0L1574.1 702.8Q1582.9 712.1 1591.8 725.8L1607.6 750.2Q1610.9 755.2 1614.1 755.9L1635.5 760.1Q1638.8 760.8 1642.1 757.0L1654.2 743.3Q1666.7 729.0 1679.3 713.8L1687.0 704.4Q1694.7 695.1 1702.3 690.2L1718.2 680.1Q1722.6 677.3 1727.0 678.9L1743.5 684.9Q1750.5 687.4 1757.5 694.4L1765.9 702.7Q1778.5 715.2 1791.0 726.4L1803.8 737.8Q1806.4 740.1 1809.0 738.1L1826.2 724.6Q1834.3 718.2 1842.5 707.5L1849.7 697.9Q1862.3 681.3 1874.8 667.4L1885.0 656.2Q1890.2 650.5 1895.4 649.2L1913.2 644.6Q1918.1 643.4 1923.1 646.5L1941.5 658.3Q1946.1 661.3 1950.6 668.6L1962.6 687.7Q1974.0 705.9 1985.4 728.6L1992.0 741.6Q2001.9 761.4 2011.9 776.8L2029.9 804.5" stroke="#0000a0" stroke-width="7.5"/>
<path d="M353.9 505.7L375.8 478.4Q381.9 470.8 387.9 467.7L397.2 462.9Q409.8 456.4 422.4 452.2L425.2 451.3Q437.7 447.1 450.3 439.4L453.1 437.6Q465.7 429.9 478.2 418.2L481.0 415.6Q493.6 404.0 506.2 390.1L510.1 385.7Q521.5 373.2 532.9 365.0L540.0 360.0Q549.5 353.2 559.0 350.7L565.3 349.1Q577.4 346.1 589.5 347.4L600.6 348.6Q605.3 349.1 610.1 354.1L626.6 371.2Q633.3 378.1 639.9 389.4L657.6 419.4Q661.2 425.6 664.8 436.1L684.1 492.6Q689.1 507.2 694.1 526.2L715.0 605.7Q717.1 613.5 719.1 616.9L741.0 653.1Q745.0 659.7 749.0 661.9L764.9 670.7Q772.9 675.1 780.9 675.1L788.3 675.1Q800.9 675.1 813.4 671.0L818.8 669.2Q828.8 665.9 838.8 658.2L844.1 654.0Q856.7 644.3 869.3 633.2L872.1 630.7Q884.6 619.7 897.2 610.0L910.2 599.9Q912.6 598.1 914.9 600.7L927.9 615.0Q940.5 628.9 953.1 642.8L960.5 650.9Q968.4 659.7 976.4 664.1L988.4 670.7Q996.4 675.1 1004.4 675.1L1011.7 675.1Q1024.3 675.1 1036.9 675.1L1039.7 675.1Q1052.2 675.1 1064.8 675.1L1067.6 675.1Q1080.2 675.1 1092.7 675.1L1095.5 675.1Q1108.1 675.1 1120.7 675.1L1123.5 675.1Q1136.0 675.1 1148.6 675.1L1151.4 675.1Q1164.0 675.1 1176.5 675.1L1179.3 675.1Q1191.9 675.1 1204.5 675.1L1207.3 675.1Q1219.8 675.1 1232.4 675.1L1235.2 675.1Q1247.8 675.1 1260.3 675.1L1263.1 675.1Q1275.7 675.1 1288.3 675.1L1291.1 675.1Q1303.6 675.1 1316.2 675.1L1319.0 675.1Q1331.6 675.1 1344.1 676.5L1346.9 676.8Q1359.5 678.2 1372.1 679.6L1374.9 679.9Q1387.4 681.3 1400.0 683.4L1402.8 683.8Q1415.4 685.9 1427.9 687.3L1438.8 688.5Q1443.3 689.0 1447.8 693.9L1458.7 705.6Q1471.2 719.2 1483.8 734.6L1491.6 744.2Q1499.2 753.4 1506.7 758.2L1524.7 769.7Q1527.1 771.2 1529.5 768.4L1542.4 752.9Q1555.0 738.0 1567.6 723.3L1577.1 712.2Q1582.9 705.3 1588.8 702.8L1607.6 695.0Q1610.9 693.6 1614.2 696.6L1633.6 714.4Q1638.8 719.2 1644.0 728.3L1654.2 746.3Q1666.7 768.5 1679.3 790.7L1692.8 814.5Q1694.7 817.8 1696.5 816.6L1720.0 801.6Q1722.6 799.9 1725.2 793.8L1746.9 743.6Q1750.5 735.2 1754.2 731.2L1774.3 709.0Q1778.5 704.4 1782.7 704.2L1802.6 703.1Q1806.4 702.8 1810.2 707.0L1829.8 728.9Q1834.3 734.0 1838.9 743.4L1857.3 781.9Q1862.3 792.2 1867.2 798.1L1888.8 823.7Q1890.2 825.5 1891.6 822.8L1913.2 782.8Q1918.1 773.7 1923.1 760.2L1939.2 715.9Q1946.1 697.0 1952.9 682.5L1970.0 646.5Q1974.0 638.1 1977.9 634.2L1996.6 615.7Q2001.9 610.4 2007.2 609.5L2029.9 605.8" stroke="#ff8000" stroke-width="7.5"/>
<path d="M437.7 1476.2L465.7 1216.1M549.5 1485.4L577.4 1315.3M605.3 1476.2L633.3 1396.1M717.1 1331.4L745.0 1321.8M772.9 1283.0L800.9 1386.5M828.8 1402.2L856.7 1313.8M884.6 1485.4L912.6 1321.8M940.5 1369.3L968.4 1466.9M996.4 1503.9L1024.3 1321.2M1052.2 1276.5L1080.2 1416.1M1108.1 1363.7L1136.0 1359.1M1164.0 1417.6L1191.9 1377.6M1219.8 1445.4L1247.8 1368.3M1275.7 1346.2L1303.6 1380.7M1331.6 1287.9L1359.5 1422.6" stroke="#e0740c" stroke-width="7.8" stroke-linecap="square"/>
<path d="M353.9 434.8L369.3 426.7Q381.9 420.0 394.4 410.6L397.2 408.5Q409.8 399.1 422.4 386.0L425.2 383.1Q437.7 370.1 450.3 360.3L456.8 355.2Q465.7 348.2 474.5 345.7L485.3 342.6Q493.6 340.2 501.9 342.2L516.1 345.7Q521.5 347.0 527.0 352.7L543.3 369.8Q549.5 376.3 555.6 387.1L573.8 419.2Q577.4 425.6 581.0 436.4L602.0 498.8Q605.3 508.7 608.7 523.0L631.2 619.9Q633.3 628.9 635.4 633.5L658.5 684.7Q661.2 690.5 663.9 692.0L681.1 701.5Q689.1 705.9 697.1 705.9L704.5 705.9Q717.1 705.9 729.6 701.8L732.4 700.8Q745.0 696.7 757.6 693.9L760.4 693.3Q772.9 690.5 785.5 687.7L788.3 687.1Q800.9 684.4 813.4 681.6L816.2 681.0Q828.8 678.2 841.4 675.4L844.1 674.8Q856.7 672.0 869.3 670.6L872.1 670.3Q884.6 669.0 897.2 669.0L900.0 669.0Q912.6 669.0 925.1 671.7L927.9 672.3Q940.5 675.1 953.1 682.0L955.9 683.6Q968.4 690.5 981.0 697.5L983.8 699.0Q996.4 705.9 1008.9 712.9L1011.7 714.4Q1024.3 721.3 1036.9 728.3L1039.7 729.8Q1052.2 736.7 1064.8 743.7L1072.2 747.7Q1080.2 752.1 1088.1 752.1L1095.5 752.1Q1108.1 752.1 1120.7 752.1L1123.5 752.1Q1136.0 752.1 1148.6 752.1L1151.4 752.1Q1164.0 752.1 1176.5 752.1L1179.3 752.1Q1191.9 752.1 1204.5 752.1L1207.3 752.1Q1219.8 752.1 1232.4 752.1L1235.2 752.1Q1247.8 752.1 1260.3 752.1L1263.1 752.1Q1275.7 752.1 1288.3 752.1L1291.1 752.1Q1303.6 752.1 1316.2 754.9L1319.0 755.5Q1331.6 758.3 1344.1 762.5L1346.9 763.4Q1359.5 767.5 1372.1 771.7L1374.9 772.6Q1387.4 776.8 1400.0 777.5L1411.5 778.1Q1415.4 778.3 1419.2 774.1L1437.1 754.9Q1443.3 748.1 1449.5 737.0L1465.1 709.2Q1471.2 698.2 1477.4 691.7L1496.6 671.1Q1499.2 668.3 1501.7 670.0L1524.3 685.0Q1527.1 686.8 1529.9 693.1L1546.2 729.3Q1555.0 749.1 1563.9 773.2L1581.6 821.5Q1582.9 825.2 1584.3 824.4L1608.5 811.3Q1610.9 810.1 1613.2 804.4L1633.3 756.2Q1638.8 742.9 1644.4 734.0L1664.2 702.1Q1666.7 697.9 1669.3 698.1L1692.1 700.2Q1694.7 700.4 1697.3 705.0L1719.7 745.1Q1722.6 750.3 1725.5 759.9L1748.4 835.5Q1750.5 842.4 1752.6 844.9L1777.3 874.6Q1778.5 876.0 1779.6 873.0L1793.8 836.7Q1806.4 804.5 1819.0 774.0L1831.6 743.3Q1834.3 736.7 1837.0 734.5L1859.5 716.4Q1862.3 714.2 1865.0 716.4L1888.1 735.0Q1890.2 736.7 1892.3 742.9L1915.2 808.4Q1918.1 816.8 1921.1 829.7L1944.9 933.3Q1946.1 938.5 1947.3 939.4L1973.3 958.1Q1974.0 958.6 1974.7 954.7L2000.2 808.3Q2001.9 798.4 2003.7 792.8L2029.9 709.0" stroke="#800080" stroke-width="7.5"/>
</g>
<line x1="596" y1="335.2" x2="1729.7" y2="335.2" stroke="#000" stroke-width="9.6"/>
<polygon points="552.4,335.2 597,312 597,358.4" fill="#000"/>
<rect x="380.9" y="509.3" width="506.6" height="677.3" fill="#fff" stroke="#000" stroke-width="4.3"/>
<line x1="413.8" y1="569.8" x2="551.7" y2="569.8" stroke="#000000" stroke-width="12.7" stroke-linecap="round"/>
<line x1="413.8" y1="665.7" x2="551.7" y2="665.7" stroke="#ff0000" stroke-width="12.7" stroke-linecap="round"/>
<line x1="413.8" y1="761.6" x2="551.7" y2="761.6" stroke="#0000ff" stroke-width="12.7" stroke-linecap="round"/>
<line x1="413.8" y1="857.5" x2="551.7" y2="857.5" stroke="#008080" stroke-width="12.7" stroke-linecap="round"/>
<line x1="413.8" y1="953.4" x2="551.7" y2="953.4" stroke="#ff00ff" stroke-width="12.7" stroke-linecap="round"/>
<line x1="413.8" y1="1049.3" x2="551.7" y2="1049.3" stroke="#808000" stroke-width="12.7" stroke-linecap="round"/>
<line x1="413.8" y1="1145.2" x2="551.7" y2="1145.2" stroke="#000080" stroke-width="12.7" stroke-linecap="round"/>
<rect x="899.3" y="509.3" width="507.6" height="571.5" fill="#fff" stroke="#000" stroke-width="4.3"/>
<line x1="933.0" y1="564.7" x2="1070.1" y2="564.7" stroke="#800000" stroke-width="12.7" stroke-linecap="round"/>
<line x1="933.0" y1="660.6" x2="1070.1" y2="660.6" stroke="#ff0080" stroke-width="12.7" stroke-linecap="round"/>
<line x1="933.0" y1="756.5" x2="1070.1" y2="756.5" stroke="#008000" stroke-width="12.7" stroke-linecap="round"/>
<line x1="933.0" y1="852.4" x2="1070.1" y2="852.4" stroke="#0000a0" stroke-width="12.7" stroke-linecap="round"/>
<line x1="933.0" y1="948.3" x2="1070.1" y2="948.3" stroke="#ff8000" stroke-width="12.7" stroke-linecap="round"/>
<line x1="933.0" y1="1044.2" x2="1070.1" y2="1044.2" stroke="#800080" stroke-width="12.7" stroke-linecap="round"/>
<text class="ser" font-size="75.5" x="569.9" y="588.0" textLength="305.5" lengthAdjust="spacingAndGlyphs" >21.0 GHz</text>
<text class="ser" font-size="75.5" x="569.9" y="684.0" textLength="305.5" lengthAdjust="spacingAndGlyphs" >21.5 GHz</text>
<text class="ser" font-size="75.5" x="569.9" y="780.0" textLength="305.5" lengthAdjust="spacingAndGlyphs" >22.0 GHz</text>
<text class="ser" font-size="75.5" x="569.9" y="876.0" textLength="305.5" lengthAdjust="spacingAndGlyphs" >22.5 GHz</text>
<text class="ser" font-size="75.5" x="569.9" y="972.0" textLength="305.5" lengthAdjust="spacingAndGlyphs" >23.0 GHz</text>
<text class="ser" font-size="75.5" x="569.9" y="1068.0" textLength="305.5" lengthAdjust="spacingAndGlyphs" >23.5 GHz</text>
<text class="ser" font-size="75.5" x="569.9" y="1164.0" textLength="305.5" lengthAdjust="spacingAndGlyphs" >24.0 GHz</text>
<text class="ser" font-size="75.5" x="1088.6" y="583.0" textLength="306.1" lengthAdjust="spacingAndGlyphs" >24.5 GHz</text>
<text class="ser" font-size="75.5" x="1088.6" y="679.0" textLength="306.1" lengthAdjust="spacingAndGlyphs" >25.0 GHz</text>
<text class="ser" font-size="75.5" x="1088.6" y="775.0" textLength="306.1" lengthAdjust="spacingAndGlyphs" >25.5 GHz</text>
<text class="ser" font-size="75.5" x="1088.6" y="871.0" textLength="306.1" lengthAdjust="spacingAndGlyphs" >26.0 GHz</text>
<text class="ser" font-size="75.5" x="1088.6" y="967.0" textLength="306.1" lengthAdjust="spacingAndGlyphs" >26.5 GHz</text>
<text class="ser" font-size="75.5" x="1088.6" y="1063.0" textLength="306.1" lengthAdjust="spacingAndGlyphs" >27.0 GHz</text>
<text class="ser" font-size="69" x="253.4" y="185.3" textLength="71.3" lengthAdjust="spacingAndGlyphs" >25</text>
<text class="ser" font-size="69" x="253.3" y="339.4" textLength="72.6" lengthAdjust="spacingAndGlyphs" >20</text>
<text class="ser" font-size="69" x="255.1" y="493.5" textLength="69.5" lengthAdjust="spacingAndGlyphs" >15</text>
<text class="ser" font-size="69" x="255.0" y="647.5" textLength="71.0" lengthAdjust="spacingAndGlyphs" >10</text>
<text class="ser" font-size="69" x="290.3" y="801.6" textLength="34.3" lengthAdjust="spacingAndGlyphs" >5</text>
<text class="ser" font-size="69" x="290.2" y="955.6" textLength="35.8" lengthAdjust="spacingAndGlyphs" >0</text>
<text class="ser" font-size="69" x="250.2" y="1109.6" textLength="74.3" lengthAdjust="spacingAndGlyphs" >−5</text>
<text class="ser" font-size="69" x="218.8" y="1263.7" textLength="107.0" lengthAdjust="spacingAndGlyphs" >−10</text>
<text class="ser" font-size="69" x="218.8" y="1417.8" textLength="105.7" lengthAdjust="spacingAndGlyphs" >−15</text>
<text class="ser" font-size="69" x="290.0" y="1478.8" textLength="111.3" lengthAdjust="spacingAndGlyphs" >−30</text>
<text class="ser" font-size="69" x="429.7" y="1478.8" textLength="108.4" lengthAdjust="spacingAndGlyphs" >−25</text>
<text class="ser" font-size="69" x="570.6" y="1478.8" textLength="109.9" lengthAdjust="spacingAndGlyphs" >−20</text>
<text class="ser" font-size="69" x="707.4" y="1478.8" textLength="109.9" lengthAdjust="spacingAndGlyphs" >−15</text>
<text class="ser" font-size="69" x="848.6" y="1478.8" textLength="109.9" lengthAdjust="spacingAndGlyphs" >−10</text>
<text class="ser" font-size="69" x="1005.3" y="1478.8" textLength="74.2" lengthAdjust="spacingAndGlyphs" >−5</text>
<text class="ser" font-size="69" x="1172.5" y="1478.8" textLength="35.3" lengthAdjust="spacingAndGlyphs" >0</text>
<text class="ser" font-size="69" x="1312.7" y="1478.8" textLength="33.0" lengthAdjust="spacingAndGlyphs" >5</text>
<text class="ser" font-size="69" x="1435.4" y="1478.8" textLength="70.3" lengthAdjust="spacingAndGlyphs" >10</text>
<text class="ser" font-size="69" x="1574.4" y="1478.8" textLength="68.2" lengthAdjust="spacingAndGlyphs" >15</text>
<text class="ser" font-size="69" x="1712.9" y="1478.8" textLength="71.8" lengthAdjust="spacingAndGlyphs" >20</text>
<text class="ser" font-size="69" x="1852.3" y="1478.8" textLength="70.2" lengthAdjust="spacingAndGlyphs" >25</text>
<text class="ser" font-size="69" x="1991.2" y="1478.8" textLength="71.5" lengthAdjust="spacingAndGlyphs" >30</text>
<text class="ser" font-size="98" x="880.4" y="1626.5" textLength="624.8" lengthAdjust="spacingAndGlyphs" >Theta (degree)</text>
<text class="ser" font-size="100" x="-1219.3" y="118.5" textLength="845.1" lengthAdjust="spacingAndGlyphs" transform="rotate(-90)">Realized Gain (dBi)</text>
<text class="san" font-size="83" x="344.1" y="118.4" textLength="527.6" lengthAdjust="spacingAndGlyphs" >Solid : Co-Pol.</text>
<text class="san" font-size="83" x="1453.0" y="118.4" textLength="631.8" lengthAdjust="spacingAndGlyphs" >Dash : Cross-Pol.</text>
<text class="san" font-size="58.5" x="803.0" y="213.6" textLength="768.2" lengthAdjust="spacingAndGlyphs" >Beam scanning direction</text>
<text class="san" font-size="61" x="851.2" y="290.6" textLength="672.5" lengthAdjust="spacingAndGlyphs" >Forward-to-Backward</text>
</svg></body></html>
